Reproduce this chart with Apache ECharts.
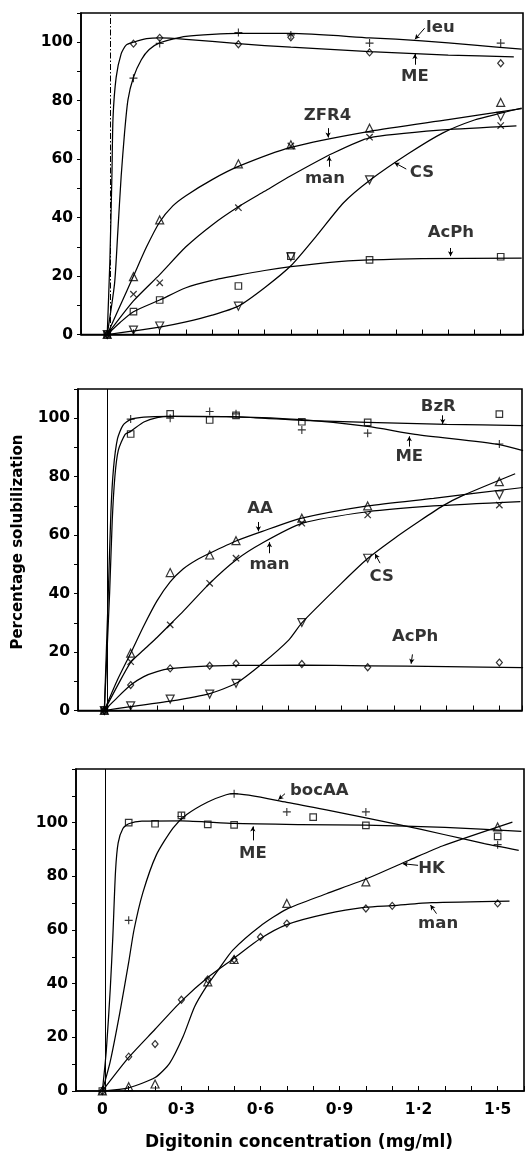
<!DOCTYPE html>
<html><head><meta charset="utf-8">
<script src="https://cdn.jsdelivr.net/npm/echarts@6/dist/echarts.min.js"></script>
<style>html,body{margin:0;padding:0;background:#fff}#c{width:528px;height:1152px}</style>
</head><body><div id="c"></div>
<script>
// ---------------- Panel 1 ----------------
const p1X      = [0, 0.1, 0.2, 0.5, 0.7, 1.0, 1.5];
const p1_ME    = [0, 99.5, 101.5, 99.3, 101.7, 96.5, 92.8];
const p1_leu   = [0, 87.7, 99.6, 103.3, 102.5, 99.7, 99.7];
const p1_ZFR4  = [0, 19.8, 39.2, 58.4, 64.9, 70.6, 79.4];
const p1_man   = [0, 13.8, 17.7, 43.4, 64.5, 67.5, 71.5];
const p1_CS    = [0, 1.5, 2.9, 9.7, 26.6, 52.9, 74.6];
const p1_AcPh  = [0, 7.8, 11.8, 16.6, 26.8, 25.5, 26.6];
const c1_ME   = [[0,0],[0.01,25],[0.018,55],[0.022,74],[0.034,88],[0.053,96],[0.072,99],[0.1,100],[0.15,101.2],[0.2,101.5],[0.3,101],[0.5,99.5],[0.7,98.3],[1.0,96.8],[1.3,95.6],[1.55,95]];
const c1_leu  = [[0,0],[0.028,17.5],[0.04,34.6],[0.053,54],[0.066,69],[0.079,80.3],[0.1,88],[0.13,94],[0.16,97.5],[0.2,99.8],[0.3,102],[0.5,103],[0.7,103],[1.0,101.5],[1.2,100.5],[1.4,99],[1.58,97.6]];
const c1_ZFR4 = [[0,0],[0.05,10],[0.1,20],[0.15,30],[0.2,38.5],[0.25,44],[0.3,47.5],[0.4,53],[0.5,57.5],[0.7,64],[1.0,69.5],[1.3,73.5],[1.58,77.3]];
const c1_man  = [[0,0],[0.1,11.5],[0.2,20.5],[0.3,30],[0.4,37.5],[0.5,43.7],[0.6,49],[0.7,54.3],[0.86,62],[1.0,67.3],[1.28,70],[1.56,71.4]];
const c1_CS   = [[0,0],[0.1,1.2],[0.2,2.5],[0.3,4.3],[0.4,6.6],[0.5,9.7],[0.6,16],[0.7,23.5],[0.8,34],[0.9,45],[1.0,52.7],[1.15,62],[1.28,69],[1.4,73.4],[1.5,75.7],[1.58,77.5]];
const c1_AcPh = [[0,0],[0.05,4.2],[0.1,7.8],[0.2,11.8],[0.3,16],[0.4,18.5],[0.5,20.3],[0.6,21.9],[0.7,23.2],[0.85,24.7],[1.0,25.5],[1.2,26],[1.58,26.1]];
const a1_labels = [['leu',1.27,104.9],['ME',1.173,88.1],['ZFR4',0.84,74.8],['man',0.83,53.2],['CS',1.2,55.3],['AcPh',1.31,34.7]];
const a1_arrows = [[1.21,104.8,1.173,101.0],[1.173,92.3,1.173,96.0],[0.842,70.6,0.842,67.4],[0.846,57.4,0.846,61.0],[1.14,56.6,1.095,58.8],[1.309,29.6,1.309,26.8]];

// ---------------- Panel 2 ----------------
const p2X      = [0, 0.1, 0.25, 0.4, 0.5, 0.75, 1.0, 1.5];
const p2_BzR   = [0, 94.6, 101.5, 99.4, 101, 98.8, 98.6, 101.4];
const p2_ME    = [0, 99.7, 100, 102.3, 101.5, 96, 94.9, 91.2];
const p2_AA    = [0, 19.6, 47.2, 53.2, 58.1, 65.8, 70, 78.3];
const p2_man   = [0, 16.7, 29.3, 43.5, 52.1, 64.1, 66.9, 70.3];
const p2_CS    = [0, 1.6, 3.9, 5.6, 9.3, 30.1, 52.1, 73.8];
const p2_AcPh  = [0, 8.7, 14.4, 15.3, 16.1, 15.9, 14.8, 16.4];
const c2_ME   = [[0,0],[0.015,40],[0.025,68],[0.035,83],[0.05,93],[0.07,97.5],[0.1,99.6],[0.15,100.4],[0.25,100.6],[0.5,100.5],[0.75,99.5],[1.0,97.2],[1.18,94.5],[1.5,91],[1.59,88.9]];
const c2_BzR  = [[0,0],[0.02,40],[0.03,65],[0.04,80],[0.053,89],[0.079,94.5],[0.1,95.5],[0.15,98.7],[0.2,100.2],[0.25,100.6],[0.5,100.5],[0.75,99.3],[1.0,98.6],[1.3,97.9],[1.59,97.5]];
const c2_AA   = [[0,0],[0.05,10.5],[0.1,19.6],[0.15,29],[0.2,37.5],[0.25,44],[0.3,48.5],[0.35,51.5],[0.4,53.8],[0.5,58],[0.6,61.3],[0.75,65.8],[1.0,70],[1.25,72.6],[1.59,76.3]];
const c2_man  = [[0,0],[0.05,8.5],[0.1,16.5],[0.15,20.8],[0.2,25],[0.25,29.5],[0.3,34],[0.4,43.5],[0.5,51.5],[0.6,57.3],[0.75,64],[1.0,68],[1.25,70],[1.58,71.5]];
const c2_CS   = [[0,0],[0.1,1.3],[0.25,3.2],[0.4,5.8],[0.5,9.3],[0.6,16.1],[0.7,24.1],[0.75,30],[0.9,43.5],[1.0,52],[1.1,58.8],[1.2,65],[1.285,70],[1.36,73.5],[1.56,81]];
const c2_AcPh = [[0,0],[0.05,4.5],[0.1,8.7],[0.15,11.6],[0.2,13.3],[0.25,14.3],[0.35,15],[0.5,15.4],[0.75,15.5],[1.0,15.3],[1.3,15],[1.59,14.7]];
const a2_labels = [['BzR',1.268,104],['ME',1.158,86.9],['AA',0.591,69.2],['man',0.627,49.8],['CS',1.053,45.8],['AcPh',1.18,25.3]];
const a2_arrows = [[1.285,101.0,1.285,98.0],[1.158,90.3,1.158,93.8],[0.585,64.5,0.585,61.3],[0.627,53.8,0.627,57.6],[1.047,50.4,1.028,53.6],[1.17,19.2,1.165,16.0]];

// ---------------- Panel 3 ----------------
const p3_ME    = [[0,0],[0.1,100],[0.2,99.6],[0.3,102.7],[0.4,99.4],[0.5,99.2],[0.8,102.1],[1.0,99],[1.5,94.9]];
const p3_bocAA = [[0,0],[0.1,63.6],[0.3,102.3],[0.5,110.8],[0.7,104],[1.0,104],[1.5,91.8]];
const p3_HK    = [[0,0],[0.1,1.6],[0.2,2.6],[0.4,40.7],[0.5,49],[0.7,69.9],[1.0,77.9],[1.5,98.4]];
const p3_man   = [[0,0],[0.1,12.8],[0.2,17.5],[0.3,34],[0.4,41.6],[0.5,49],[0.6,57.4],[0.7,62.4],[1.0,68],[1.1,69],[1.5,69.9]];
const c3_ME    = [[0,0],[0.015,15],[0.03,38],[0.04,58],[0.05,82],[0.06,92.5],[0.078,97.8],[0.1,99.6],[0.15,100.6],[0.3,100.7],[0.5,99.7],[0.75,99.3],[1.0,99.1],[1.3,98.2],[1.59,96.8]];
const c3_bocAA = [[0,0],[0.03,11],[0.066,29],[0.1,48],[0.12,60],[0.154,74],[0.205,88],[0.268,98],[0.32,103],[0.4,107.7],[0.47,110.4],[0.5,110.8],[0.7,107.6],[0.85,104.8],[1.0,101.8],[1.12,99.4],[1.3,95.5],[1.45,92.2],[1.58,89.7]];
const c3_HK    = [[0,0],[0.1,1.2],[0.2,5],[0.255,10.3],[0.306,20.2],[0.35,31.4],[0.394,38.8],[0.444,45.7],[0.495,52.5],[0.6,61.5],[0.7,67.8],[0.85,73.5],[1.0,79],[1.164,86],[1.29,91.3],[1.556,100.2]];
const c3_man   = [[0,0],[0.1,12.5],[0.2,23],[0.3,33.5],[0.4,42.3],[0.5,49.5],[0.6,56.8],[0.7,62],[0.85,66],[1.0,68.5],[1.1,69.1],[1.25,70.2],[1.545,70.8]];
const a3_labels = [['bocAA',0.823,112],['ME',0.571,88.5],['HK',1.249,82.9],['man',1.274,62.4]];
const a3_arrows = [[0.693,110.8,0.668,108.6],[0.571,93.4,0.571,98.6],[1.198,84.1,1.14,84.7],[1.268,66.1,1.245,69.3]];

// Axis tick labels
const xTickLabels = {'0':'0','3':'0·3','6':'0·6','9':'0·9','12':'1·2','15':'1·5'};
const xTitle = 'Digitonin concentration (mg/ml)';
const yTitle = 'Percentage solubilization';

const FONT = 'DejaVu Sans';
const PLUS = 'path://M4.3,0L5.7,0L5.7,4.3L10,4.3L10,5.7L5.7,5.7L5.7,10L4.3,10L4.3,5.7L0,5.7L0,4.3L4.3,4.3Z';
const SYM = {
  plus:   {symbol: PLUS, size: 8, rotate: 0, filled: true},
  cross:  {symbol: PLUS, size: 9, rotate: 45, filled: true},
  diamond:{symbol: 'diamond', size: [6,7], rotate: 0},
  tri:    {symbol: 'triangle', size: 8, rotate: 0},
  inv:    {symbol: 'triangle', size: 8, rotate: 180},
  square: {symbol: 'rect', size: 6.5, rotate: 0}
};
const zip = (xs, ys) => xs.map((x, i) => [x, ys[i]]);

const panels = [
  {grid:{left:81, top:13, width:442, height:321.5}, xmax:1.585, ymax:110, dashed:true, labels:false,
   curves:[c1_ME,c1_leu,c1_ZFR4,c1_man,c1_CS,c1_AcPh],
   markers:[[zip(p1X,p1_ME),'diamond'],[zip(p1X,p1_leu),'plus'],[zip(p1X,p1_ZFR4),'tri'],[zip(p1X,p1_man),'cross'],[zip(p1X,p1_CS),'inv'],[zip(p1X,p1_AcPh),'square']],
   annot:a1_labels, arrows:a1_arrows},
  {grid:{left:78, top:389, width:444, height:321.5}, xmax:1.586, ymax:110, dashed:false, labels:false,
   curves:[c2_ME,c2_BzR,c2_AA,c2_man,c2_CS,c2_AcPh],
   markers:[[zip(p2X,p2_BzR),'square'],[zip(p2X,p2_ME),'plus'],[zip(p2X,p2_AA),'tri'],[zip(p2X,p2_man),'cross'],[zip(p2X,p2_CS),'inv'],[zip(p2X,p2_AcPh),'diamond']],
   annot:a2_labels, arrows:a2_arrows},
  {grid:{left:76, top:769, width:448, height:322}, xmax:1.6, ymax:120, dashed:false, labels:true,
   curves:[c3_ME,c3_bocAA,c3_HK,c3_man],
   markers:[[p3_ME,'square'],[p3_bocAA,'plus'],[p3_HK,'tri'],[p3_man,'diamond']],
   annot:a3_labels, arrows:a3_arrows}
];

const grid = [], xAxis = [], yAxis = [], series = [];
panels.forEach((p, i) => {
  grid.push(Object.assign({show:true, borderColor:'#000', borderWidth:1.6, backgroundColor:'transparent'}, p.grid));
  xAxis.push({type:'value', gridIndex:i, min:-0.1, max:p.xmax, interval:0.1,
    axisLine:{show:true, onZero:false, lineStyle:{color:'#000', width:1.6}},
    axisTick:{show:true, inside:true, length:5, lineStyle:{color:'#000', width:1}},
    axisLabel:{show:p.labels, color:'#000', fontFamily:FONT, fontWeight:'bold', fontSize:15.5, margin:11,
      formatter: v => { const k = String(Math.round(v*10)); return (xTickLabels[k] !== undefined) ? xTickLabels[k] : ''; }},
    splitLine:{show:false}});
  yAxis.push({type:'value', gridIndex:i, min:0, max:p.ymax, interval:10,
    axisLine:{show:true, onZero:false, lineStyle:{color:'#000', width:1.6}},
    axisTick:{show:true, inside:false, length:4, lineStyle:{color:'#000', width:1}},
    axisLabel:{color:'#000', fontFamily:FONT, fontWeight:'bold', fontSize:15.5, margin:8,
      formatter: v => (Math.round(v) % 20 === 0 && v <= 100) ? String(Math.round(v)) : ''},
    splitLine:{show:false}});
  // vertical reference line at zero concentration
  series.push({type:'line', xAxisIndex:i, yAxisIndex:i, data:[], silent:true,
    markLine:{silent:true, symbol:['none','none'], label:{show:false},
      lineStyle:{color:'#000', width:1, type: p.dashed ? [6,2,1.5,2] : 'solid'},
      data:[{xAxis:0.008}]}});
  p.curves.forEach(c => series.push({type:'line', xAxisIndex:i, yAxisIndex:i, data:c,
    smooth:0.22, showSymbol:false, symbol:'none', silent:true, z:2,
    lineStyle:{color:'#000', width:1.25}}));
  p.markers.forEach(([d, s]) => {
    const S = SYM[s];
    series.push({type:'scatter', xAxisIndex:i, yAxisIndex:i, data:d, symbol:S.symbol,
      symbolSize:S.size, symbolRotate:S.rotate, silent:true, z:3,
      itemStyle: S.filled ? {color:'#000', borderWidth:0} : {color:'rgba(255,255,255,0)', borderColor:'#000', borderWidth:1.2}});
  });
  series.push({type:'scatter', xAxisIndex:i, yAxisIndex:i, silent:true, z:4,
    data: p.annot.map(a => ({value:[a[1], a[2]], name:a[0]})),
    symbolSize:1, itemStyle:{color:'rgba(0,0,0,0)'},
    label:{show:true, position:'inside', formatter: '{b}', color:'#000', fontFamily:FONT, fontWeight:'bold', fontSize:16.5, textBorderWidth:0}});
  series.push({type:'line', xAxisIndex:i, yAxisIndex:i, data:[], silent:true,
    markLine:{silent:true, symbol:['none','arrow'], symbolSize:[4,5], label:{show:false},
      lineStyle:{color:'#000', width:1, type:'solid'},
      data: p.arrows.map(a => [{coord:[a[0], a[1]]}, {coord:[a[2], a[3]]}])}});
});

const chart = echarts.init(document.getElementById('c'), null, {renderer:'canvas'});
chart.setOption({
  animation:false, backgroundColor:'#fff',
  grid, xAxis, yAxis, series,
  graphic:[
    {type:'text', x:18, y:542, rotation:Math.PI/2,
     style:{text:yTitle, fill:'#000', font:'bold 15px "DejaVu Sans"', align:'center', verticalAlign:'middle', textAlign:'center', textVerticalAlign:'middle'}},
    {type:'text', x:299, y:1143,
     style:{text:xTitle, fill:'#000', font:'bold 17px "DejaVu Sans"', align:'center', verticalAlign:'middle', textAlign:'center', textVerticalAlign:'middle'}}
  ]
});
</script></body></html>
